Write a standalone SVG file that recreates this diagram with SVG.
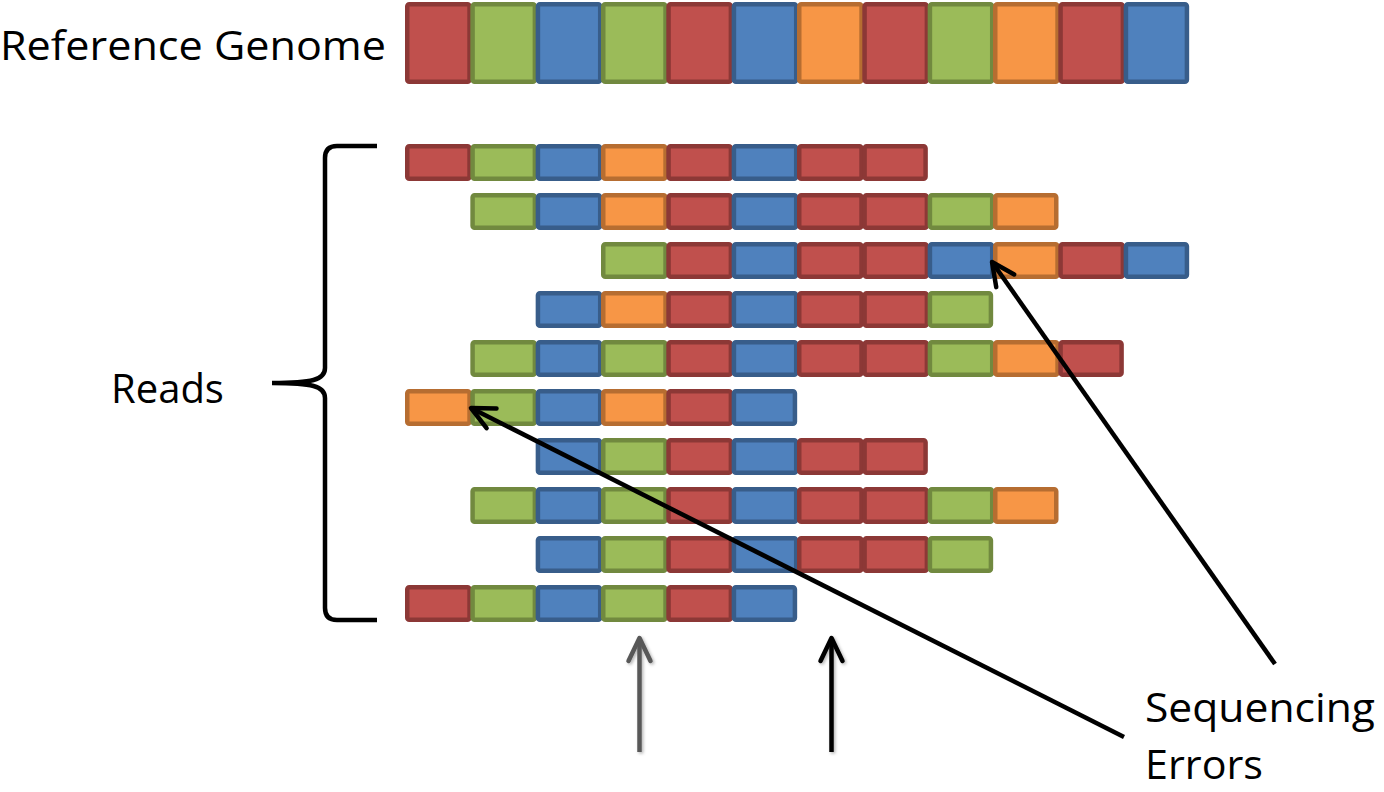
<svg xmlns="http://www.w3.org/2000/svg" width="1384" height="792" viewBox="0 0 1384 792">
<style>
.r{fill:#C0504D;stroke:#8C3836}
.g{fill:#9BBB59;stroke:#71893F}
.b{fill:#4F81BD;stroke:#385D8A}
.o{fill:#F79646;stroke:#B66D31}
rect{stroke-width:4.5}
.lbl{font-family:"Open Sans","Liberation Sans",sans-serif;font-size:40px;fill:#000}
.ln{fill:none;stroke-width:4.5}
</style>
<defs>
<marker id="ahk" markerUnits="userSpaceOnUse" orient="auto" refX="0" refY="0" markerWidth="60" markerHeight="60" overflow="visible">
<path d="M-23,-11 L0,0 L-23,11" fill="none" stroke="#000" stroke-width="4.5" stroke-linejoin="round" stroke-linecap="round"/>
</marker>
<marker id="ahg" markerUnits="userSpaceOnUse" orient="auto" refX="0" refY="0" markerWidth="60" markerHeight="60" overflow="visible">
<path d="M-23,-11 L0,0 L-23,11" fill="none" stroke="#595959" stroke-width="4.5" stroke-linejoin="round" stroke-linecap="round"/>
</marker>
<filter id="sh" x="-50%" y="-20%" width="200%" height="140%">
<feDropShadow dx="1.5" dy="1.5" stdDeviation="1.5" flood-color="#000" flood-opacity="0.3"/>
</filter>
</defs>

<g id="label-reference">
<text class="lbl" x="0" y="60" textLength="386" lengthAdjust="spacingAndGlyphs">Reference Genome</text>
</g>

<g id="reference-genome">
<rect class="r" x="407.25" y="4.25" width="62.3" height="77.5" rx="2"/>
<rect class="g" x="472.58" y="4.25" width="62.3" height="77.5" rx="2"/>
<rect class="b" x="537.92" y="4.25" width="62.3" height="77.5" rx="2"/>
<rect class="g" x="603.25" y="4.25" width="62.3" height="77.5" rx="2"/>
<rect class="r" x="668.58" y="4.25" width="62.3" height="77.5" rx="2"/>
<rect class="b" x="733.92" y="4.25" width="62.3" height="77.5" rx="2"/>
<rect class="o" x="799.25" y="4.25" width="62.3" height="77.5" rx="2"/>
<rect class="r" x="864.58" y="4.25" width="62.3" height="77.5" rx="2"/>
<rect class="g" x="929.92" y="4.25" width="62.3" height="77.5" rx="2"/>
<rect class="o" x="995.25" y="4.25" width="62.3" height="77.5" rx="2"/>
<rect class="r" x="1060.58" y="4.25" width="62.3" height="77.5" rx="2"/>
<rect class="b" x="1125.92" y="4.25" width="61" height="77.5" rx="2"/>
</g>

<g id="read-1">
<rect class="r" x="407.25" y="146.25" width="62.3" height="32.5" rx="2"/>
<rect class="g" x="472.58" y="146.25" width="62.3" height="32.5" rx="2"/>
<rect class="b" x="537.92" y="146.25" width="62.3" height="32.5" rx="2"/>
<rect class="o" x="603.25" y="146.25" width="62.3" height="32.5" rx="2"/>
<rect class="r" x="668.58" y="146.25" width="62.3" height="32.5" rx="2"/>
<rect class="b" x="733.92" y="146.25" width="62.3" height="32.5" rx="2"/>
<rect class="r" x="799.25" y="146.25" width="62.3" height="32.5" rx="2"/>
<rect class="r" x="864.58" y="146.25" width="61" height="32.5" rx="2"/>
</g>

<g id="read-2">
<rect class="g" x="472.58" y="195.25" width="62.3" height="32.5" rx="2"/>
<rect class="b" x="537.92" y="195.25" width="62.3" height="32.5" rx="2"/>
<rect class="o" x="603.25" y="195.25" width="62.3" height="32.5" rx="2"/>
<rect class="r" x="668.58" y="195.25" width="62.3" height="32.5" rx="2"/>
<rect class="b" x="733.92" y="195.25" width="62.3" height="32.5" rx="2"/>
<rect class="r" x="799.25" y="195.25" width="62.3" height="32.5" rx="2"/>
<rect class="r" x="864.58" y="195.25" width="62.3" height="32.5" rx="2"/>
<rect class="g" x="929.92" y="195.25" width="62.3" height="32.5" rx="2"/>
<rect class="o" x="995.25" y="195.25" width="61" height="32.5" rx="2"/>
</g>

<g id="read-3">
<rect class="g" x="603.25" y="244.25" width="62.3" height="32.5" rx="2"/>
<rect class="r" x="668.58" y="244.25" width="62.3" height="32.5" rx="2"/>
<rect class="b" x="733.92" y="244.25" width="62.3" height="32.5" rx="2"/>
<rect class="r" x="799.25" y="244.25" width="62.3" height="32.5" rx="2"/>
<rect class="r" x="864.58" y="244.25" width="62.3" height="32.5" rx="2"/>
<rect class="b" x="929.92" y="244.25" width="62.3" height="32.5" rx="2"/>
<rect class="o" x="995.25" y="244.25" width="62.3" height="32.5" rx="2"/>
<rect class="r" x="1060.58" y="244.25" width="62.3" height="32.5" rx="2"/>
<rect class="b" x="1125.92" y="244.25" width="61" height="32.5" rx="2"/>
</g>

<g id="read-4">
<rect class="b" x="537.92" y="293.25" width="62.3" height="32.5" rx="2"/>
<rect class="o" x="603.25" y="293.25" width="62.3" height="32.5" rx="2"/>
<rect class="r" x="668.58" y="293.25" width="62.3" height="32.5" rx="2"/>
<rect class="b" x="733.92" y="293.25" width="62.3" height="32.5" rx="2"/>
<rect class="r" x="799.25" y="293.25" width="62.3" height="32.5" rx="2"/>
<rect class="r" x="864.58" y="293.25" width="62.3" height="32.5" rx="2"/>
<rect class="g" x="929.92" y="293.25" width="61" height="32.5" rx="2"/>
</g>

<g id="read-5">
<rect class="g" x="472.58" y="342.25" width="62.3" height="32.5" rx="2"/>
<rect class="b" x="537.92" y="342.25" width="62.3" height="32.5" rx="2"/>
<rect class="g" x="603.25" y="342.25" width="62.3" height="32.5" rx="2"/>
<rect class="r" x="668.58" y="342.25" width="62.3" height="32.5" rx="2"/>
<rect class="b" x="733.92" y="342.25" width="62.3" height="32.5" rx="2"/>
<rect class="r" x="799.25" y="342.25" width="62.3" height="32.5" rx="2"/>
<rect class="r" x="864.58" y="342.25" width="62.3" height="32.5" rx="2"/>
<rect class="g" x="929.92" y="342.25" width="62.3" height="32.5" rx="2"/>
<rect class="o" x="995.25" y="342.25" width="62.3" height="32.5" rx="2"/>
<rect class="r" x="1060.58" y="342.25" width="61" height="32.5" rx="2"/>
</g>

<g id="read-6">
<rect class="o" x="407.25" y="391.25" width="62.3" height="32.5" rx="2"/>
<rect class="g" x="472.58" y="391.25" width="62.3" height="32.5" rx="2"/>
<rect class="b" x="537.92" y="391.25" width="62.3" height="32.5" rx="2"/>
<rect class="o" x="603.25" y="391.25" width="62.3" height="32.5" rx="2"/>
<rect class="r" x="668.58" y="391.25" width="62.3" height="32.5" rx="2"/>
<rect class="b" x="733.92" y="391.25" width="61" height="32.5" rx="2"/>
</g>

<g id="read-7">
<rect class="b" x="537.92" y="440.25" width="62.3" height="32.5" rx="2"/>
<rect class="g" x="603.25" y="440.25" width="62.3" height="32.5" rx="2"/>
<rect class="r" x="668.58" y="440.25" width="62.3" height="32.5" rx="2"/>
<rect class="b" x="733.92" y="440.25" width="62.3" height="32.5" rx="2"/>
<rect class="r" x="799.25" y="440.25" width="62.3" height="32.5" rx="2"/>
<rect class="r" x="864.58" y="440.25" width="61" height="32.5" rx="2"/>
</g>

<g id="read-8">
<rect class="g" x="472.58" y="489.25" width="62.3" height="32.5" rx="2"/>
<rect class="b" x="537.92" y="489.25" width="62.3" height="32.5" rx="2"/>
<rect class="g" x="603.25" y="489.25" width="62.3" height="32.5" rx="2"/>
<rect class="r" x="668.58" y="489.25" width="62.3" height="32.5" rx="2"/>
<rect class="b" x="733.92" y="489.25" width="62.3" height="32.5" rx="2"/>
<rect class="r" x="799.25" y="489.25" width="62.3" height="32.5" rx="2"/>
<rect class="r" x="864.58" y="489.25" width="62.3" height="32.5" rx="2"/>
<rect class="g" x="929.92" y="489.25" width="62.3" height="32.5" rx="2"/>
<rect class="o" x="995.25" y="489.25" width="61" height="32.5" rx="2"/>
</g>

<g id="read-9">
<rect class="b" x="537.92" y="538.25" width="62.3" height="32.5" rx="2"/>
<rect class="g" x="603.25" y="538.25" width="62.3" height="32.5" rx="2"/>
<rect class="r" x="668.58" y="538.25" width="62.3" height="32.5" rx="2"/>
<rect class="b" x="733.92" y="538.25" width="62.3" height="32.5" rx="2"/>
<rect class="r" x="799.25" y="538.25" width="62.3" height="32.5" rx="2"/>
<rect class="r" x="864.58" y="538.25" width="62.3" height="32.5" rx="2"/>
<rect class="g" x="929.92" y="538.25" width="61" height="32.5" rx="2"/>
</g>

<g id="read-10">
<rect class="r" x="407.25" y="587.25" width="62.3" height="32.5" rx="2"/>
<rect class="g" x="472.58" y="587.25" width="62.3" height="32.5" rx="2"/>
<rect class="b" x="537.92" y="587.25" width="62.3" height="32.5" rx="2"/>
<rect class="g" x="603.25" y="587.25" width="62.3" height="32.5" rx="2"/>
<rect class="r" x="668.58" y="587.25" width="62.3" height="32.5" rx="2"/>
<rect class="b" x="733.92" y="587.25" width="61" height="32.5" rx="2"/>
</g>

<g id="reads-brace">
<path class="ln" stroke="#000" d="M377,146 L337,146 Q325,146 325,158 L325,368 C325,380 312,383 272,383 C312,383 325,386 325,398 L325,608 Q325,620 337,620 L377,620"/>
<text class="lbl" x="111" y="403">Reads</text>
</g>

<g id="label-errors">
<text class="lbl" x="1145" y="722" textLength="230" lengthAdjust="spacingAndGlyphs">Sequencing</text>
<text class="lbl" x="1145" y="779" textLength="118" lengthAdjust="spacingAndGlyphs">Errors</text>
</g>

<g id="connectors">
<path class="ln" stroke="#000" d="M1275,664 L992,262" marker-end="url(#ahk)"/>
<path class="ln" stroke="#000" d="M1124,737 L471,408" marker-end="url(#ahk)"/>
<g filter="url(#sh)">
<path class="ln" stroke="#595959" d="M639.5,752 L639.5,638" marker-end="url(#ahg)"/>
<path class="ln" stroke="#000" d="M831.5,752 L831.5,638" marker-end="url(#ahk)"/>
</g>
</g>
</svg>
